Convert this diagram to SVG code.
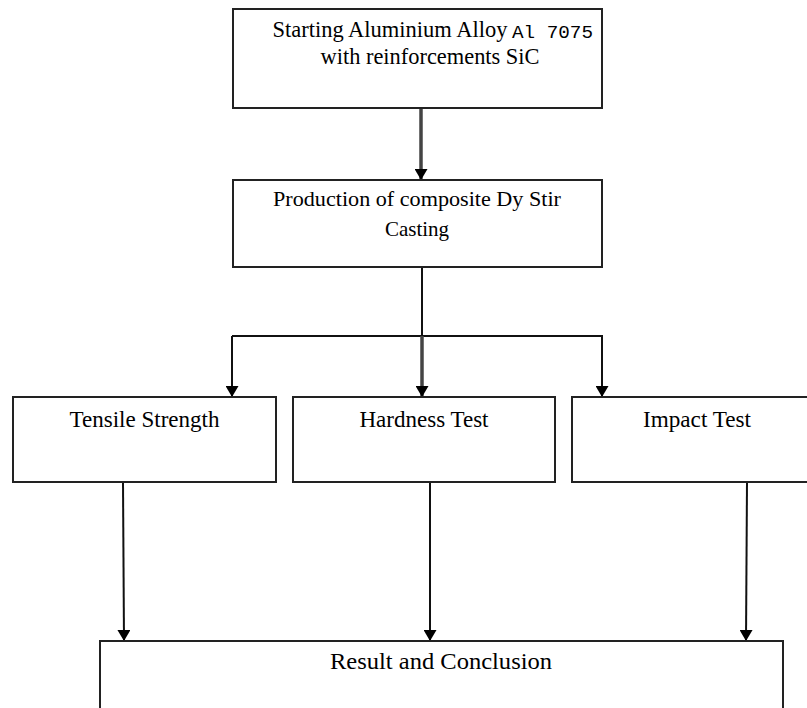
<svg xmlns="http://www.w3.org/2000/svg" width="807" height="708" viewBox="0 0 807 708">
<style>
.box{fill:#fff;stroke:#222;stroke-width:2}
.t{font-family:"Liberation Serif","Times New Roman",serif;fill:#000;text-anchor:middle}
.c{fill:none;stroke:#111;stroke-width:2}
.ct{fill:none;stroke:#444;stroke-width:3.5}
</style>
<defs>
<marker id="ah" markerUnits="userSpaceOnUse" viewBox="0 0 11 13" refX="11" refY="6.5" markerWidth="11" markerHeight="13" orient="auto">
<path d="M0,0 L11,6.5 L0,13 z" fill="#000"/>
</marker>
</defs>
<rect width="807" height="708" fill="#fff"/>
<g id="connectors">
<line class="ct" x1="421" y1="108" x2="421" y2="180" marker-end="url(#ah)"/>
<line class="c" x1="422" y1="267" x2="422" y2="336"/>
<polyline class="c" points="232,336 602,336 602,397" marker-end="url(#ah)"/>
<line class="c" x1="232" y1="336" x2="232" y2="397" marker-end="url(#ah)"/>
<line class="ct" x1="422" y1="336" x2="422" y2="397" marker-end="url(#ah)"/>
<line class="c" x1="123" y1="482" x2="124" y2="641" marker-end="url(#ah)"/>
<line class="c" x1="430" y1="482" x2="430" y2="641" marker-end="url(#ah)"/>
<line class="c" x1="747" y1="482" x2="746" y2="641" marker-end="url(#ah)"/>
</g>
<g id="start">
<rect class="box" x="233" y="9" width="369" height="99"/>
<text class="t" x="390" y="37" font-size="23.5" textLength="235" lengthAdjust="spacingAndGlyphs">Starting Aluminium Alloy</text>
<text x="512" y="38" font-family="Liberation Mono,monospace" font-size="18" textLength="81" lengthAdjust="spacingAndGlyphs">Al 7075</text>
<text class="t" x="430" y="64" font-size="23.5" textLength="219" lengthAdjust="spacingAndGlyphs">with reinforcements SiC</text>
</g>
<g id="production">
<rect class="box" x="233" y="180" width="369" height="87"/>
<text class="t" x="417" y="206" font-size="21" textLength="288" lengthAdjust="spacingAndGlyphs">Production of composite Dy Stir</text>
<text class="t" x="417" y="236" font-size="21">Casting</text>
</g>
<g id="tensile">
<rect class="box" x="13" y="397" width="263" height="85"/>
<text class="t" x="144.5" y="427" font-size="24" textLength="150" lengthAdjust="spacingAndGlyphs">Tensile Strength</text>
</g>
<g id="hardness">
<rect class="box" x="293" y="397" width="262" height="85"/>
<text class="t" x="424" y="427" font-size="24" textLength="129" lengthAdjust="spacingAndGlyphs">Hardness Test</text>
</g>
<g id="impact">
<rect class="box" x="572" y="397" width="250" height="85"/>
<text class="t" x="697" y="427" font-size="24" textLength="108" lengthAdjust="spacingAndGlyphs">Impact Test</text>
</g>
<g id="result">
<rect class="box" x="100" y="641" width="683" height="80"/>
<text class="t" x="441" y="669" font-size="24" textLength="222" lengthAdjust="spacingAndGlyphs">Result and Conclusion</text>
</g>
</svg>
